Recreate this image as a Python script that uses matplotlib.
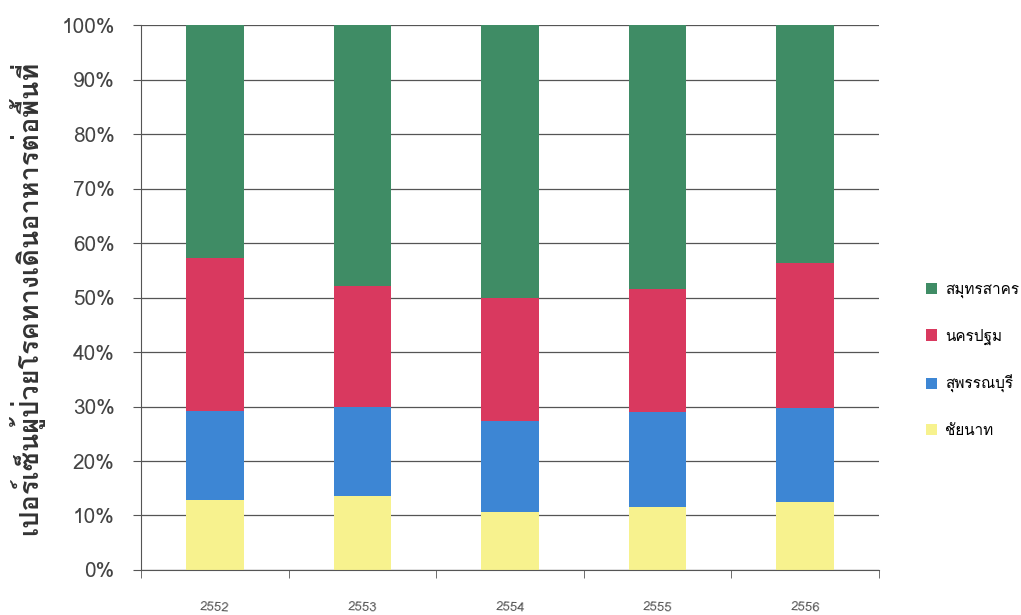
import numpy as np
import matplotlib.pyplot as plt
from matplotlib import font_manager

years = ['2552', '2553', '2554', '2555', '2556']
series_names = ['ชัยนาท', 'สุพรรณบุรี', 'นครปฐม', 'สมุทรสาคร']
chainat = [12.8, 13.5, 10.7, 11.5, 12.5]
suphan = [16.4, 16.5, 16.6, 17.5, 17.3]
nakhon_pathom = [28.1, 22.2, 22.7, 22.6, 26.5]
samut_sakhon = [42.7, 47.8, 50.0, 48.4, 43.7]
colors = ['#f7f28e', '#3d86d4', '#d9395f', '#3f8c65']

# pick a family that has Thai glyphs if one is there
thai_fams = []
for f in font_manager.fontManager.ttflist:
    if 'Thai' in f.name or 'Loma' in f.name or 'Garuda' in f.name:
        thai_fams.append(f.name)
plt.rcParams['font.family'] = list(dict.fromkeys(thai_fams)) + ['DejaVu Sans']

fig = plt.figure(figsize=(10.21, 6.15), dpi=100)
ax = fig.add_axes([0.1381, 0.0732, 0.7228, 0.886])

x = np.arange(len(years))
bottom = np.zeros(len(years))
data = [chainat, suphan, nakhon_pathom, samut_sakhon]
handles = []
for name, vals, c in zip(series_names, data, colors):
    b = ax.bar(x, vals, 0.39, bottom=bottom, color=c, label=name, zorder=2)
    bottom += np.array(vals)
    handles.append(b)

ax.set_xlim(-0.5, 4.5)
ax.set_ylim(0, 100)
ax.set_yticks(np.arange(0, 101, 10))
ax.set_yticklabels([f'{v}%' for v in range(0, 101, 10)], fontsize=15, color='#444444')
ax.yaxis.grid(True, color='#555555', linewidth=0.9, zorder=0)
ax.set_axisbelow(True)
ax.set_xticks(x)
ax.set_xticklabels(years, fontsize=9.5, color='#555555', rotation=-3)
ax.set_xticks(np.arange(-0.5, 4.6, 1), minor=True)
ax.tick_params(axis='x', which='major', length=0, pad=22)
ax.tick_params(axis='x', which='minor', length=6, color='#555555', direction='out')
ax.tick_params(axis='y', length=6, color='#555555', pad=13)
for s in ['top', 'right']:
    ax.spines[s].set_visible(False)
ax.spines['left'].set_color('#555555')
ax.spines['bottom'].set_color('#555555')

ax.set_ylabel('เปอร์เซ็นผู้ป่วยโรคทางเดินอาหารต่อพื้นที่', fontsize=19.5,
              fontweight='bold', color='#333333', labelpad=12)

leg = ax.legend(handles[::-1], series_names[::-1], loc='center left',
                bbox_to_anchor=(1.045, 0.385), frameon=False, fontsize=11,
                handlelength=0.75, handleheight=0.75, labelspacing=2.0,
                handletextpad=0.5)

fig.savefig('out.png', dpi=100)
